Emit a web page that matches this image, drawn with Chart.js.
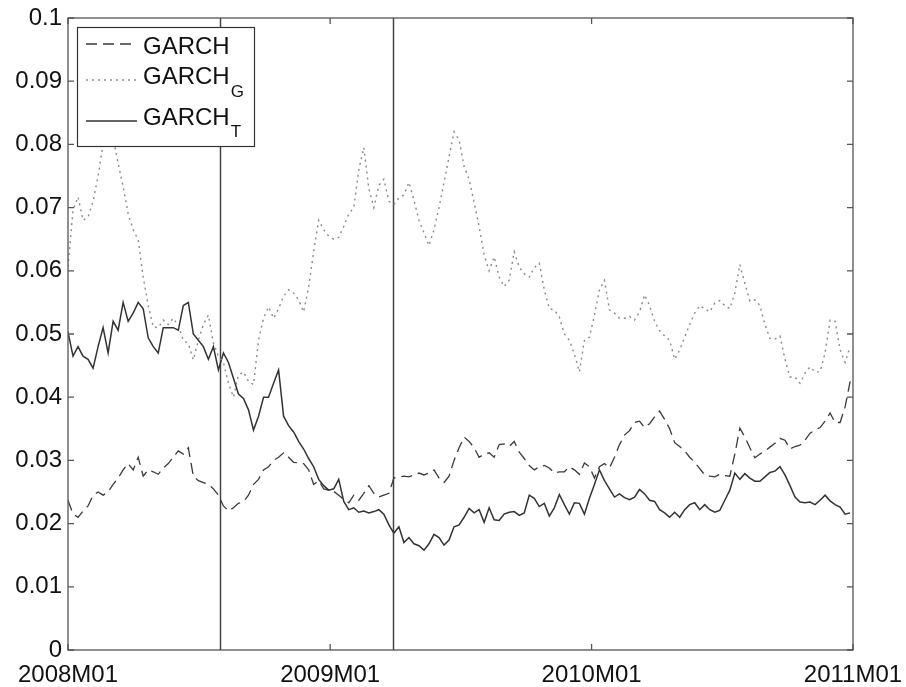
<!DOCTYPE html>
<html>
<head>
<meta charset="utf-8">
<script src="https://cdn.jsdelivr.net/npm/chart.js@4"></script>
<style>
  html, body { margin: 0; padding: 0; background: #fff; }
  #wrap { width: 906px; height: 687px; }
</style>
</head>
<body>
<div id="wrap"><canvas id="chart" width="906" height="687"></canvas></div>
<script>
// weekly values, x = weeks since 2008M01
const garch = [
  0.0237, 0.0215, 0.021, 0.022, 0.0228, 0.0245, 0.025, 0.0245, 0.025, 0.0262,
  0.0272, 0.0285, 0.0295, 0.0285, 0.0305, 0.0275, 0.0285, 0.0282, 0.0278, 0.0288,
  0.0295, 0.0305, 0.0315, 0.031, 0.032, 0.0275, 0.0268, 0.0265, 0.0262, 0.0255,
  0.0245, 0.0228, 0.022, 0.0225, 0.0232, 0.0235, 0.0245, 0.0262, 0.027, 0.0285,
  0.029, 0.030, 0.0305, 0.0312, 0.0305, 0.0297, 0.0296, 0.0295, 0.0285, 0.0262,
  0.0268, 0.0255, 0.0253, 0.0251, 0.0245, 0.0238, 0.0233, 0.0245, 0.0237, 0.0248,
  0.026, 0.0248, 0.0242, 0.0245, 0.0248, 0.0272, 0.0274, 0.0275, 0.0274, 0.0277,
  0.028, 0.0277, 0.028, 0.0285, 0.0272, 0.0265, 0.0275, 0.030, 0.032, 0.0337,
  0.033, 0.032, 0.0305, 0.031, 0.0312, 0.0305, 0.0325, 0.0326, 0.0322, 0.033,
  0.0313, 0.0303, 0.0292, 0.0285, 0.029, 0.0292, 0.0288, 0.028, 0.0282, 0.0282,
  0.029, 0.0285, 0.0278, 0.0296, 0.029, 0.0272, 0.029, 0.0295, 0.0288, 0.0305,
  0.0325, 0.034, 0.0347, 0.036, 0.0362, 0.0352, 0.0358, 0.0369, 0.0378, 0.0365,
  0.035, 0.0328, 0.0322, 0.0315, 0.0305, 0.0297, 0.0287, 0.0277, 0.0275, 0.0274,
  0.0278, 0.0276, 0.0275, 0.031, 0.0351, 0.0337, 0.032, 0.0304, 0.031, 0.0315,
  0.0321, 0.0327, 0.0335, 0.0332, 0.0318, 0.0322, 0.0324, 0.0332, 0.0343, 0.0348,
  0.0352, 0.0362, 0.0375, 0.036, 0.036, 0.0385, 0.0425
];
const garchG = [
  0.0606, 0.0696, 0.0717, 0.068, 0.0685, 0.071, 0.075, 0.080, 0.081, 0.081,
  0.077, 0.0733, 0.069, 0.0665, 0.0649, 0.059, 0.0545, 0.0511, 0.051, 0.0522,
  0.0515, 0.0525, 0.0513, 0.049, 0.0485, 0.0459, 0.049, 0.0515, 0.053, 0.0486,
  0.0464, 0.0455, 0.0422, 0.040, 0.0435, 0.044, 0.0425, 0.042, 0.049, 0.0525,
  0.0543, 0.0525, 0.054, 0.056, 0.057, 0.0565, 0.0554, 0.0535, 0.0575, 0.063,
  0.068, 0.0665, 0.0655, 0.065, 0.0653, 0.067, 0.069, 0.070, 0.076, 0.0795,
  0.073, 0.070, 0.0735, 0.0745, 0.071, 0.0705, 0.0715, 0.072, 0.074, 0.0712,
  0.068, 0.066, 0.064, 0.0665, 0.070, 0.074, 0.078, 0.082, 0.0807, 0.0765,
  0.0745, 0.0708, 0.067, 0.0625, 0.060, 0.0622, 0.059, 0.0575, 0.0585, 0.063,
  0.0606, 0.0595, 0.059, 0.0605, 0.0612, 0.057, 0.054, 0.0538, 0.0527, 0.050,
  0.049, 0.0468, 0.044, 0.049, 0.0495, 0.053, 0.057, 0.0585, 0.0538, 0.0533,
  0.0525, 0.0525, 0.0528, 0.0522, 0.0535, 0.0562, 0.0545, 0.052, 0.0505, 0.0497,
  0.049, 0.046, 0.0475, 0.0495, 0.0515, 0.0533, 0.0545, 0.054, 0.0535, 0.0549,
  0.0553, 0.0545, 0.054, 0.0565, 0.061, 0.058, 0.0552, 0.0554, 0.0545, 0.0515,
  0.0493, 0.0492, 0.0497, 0.046, 0.0432, 0.0432, 0.0422, 0.0438, 0.0448, 0.044,
  0.044, 0.047, 0.0522, 0.052, 0.0475, 0.0455, 0.048
];
const garchT = [
  0.0503, 0.0465, 0.048, 0.0465, 0.046, 0.0446, 0.048, 0.051, 0.047, 0.052,
  0.0506, 0.055, 0.052, 0.0533, 0.055, 0.054, 0.0494, 0.048, 0.047, 0.051,
  0.051, 0.051, 0.0506, 0.0545, 0.055, 0.050, 0.049, 0.048, 0.046, 0.048,
  0.0443, 0.047, 0.0455, 0.043, 0.0405, 0.0398, 0.038, 0.0348, 0.037, 0.040,
  0.040, 0.0422, 0.0443, 0.037, 0.0355, 0.0345, 0.033, 0.0318, 0.0303, 0.029,
  0.027, 0.026, 0.0253, 0.0255, 0.027, 0.0235, 0.0222, 0.0225, 0.0218, 0.022,
  0.0217, 0.0219, 0.0222, 0.0215, 0.0198, 0.0185, 0.0195, 0.017, 0.0178, 0.0168,
  0.0165, 0.0158, 0.0168, 0.0183, 0.0178, 0.0166, 0.0174, 0.0195, 0.0198, 0.021,
  0.0224, 0.0217, 0.0222, 0.0202, 0.0225, 0.0206, 0.0205, 0.0215, 0.0218, 0.0219,
  0.0213, 0.0217, 0.0245, 0.024, 0.0227, 0.0232, 0.0212, 0.0225, 0.0246, 0.023,
  0.0215, 0.0233, 0.0232, 0.0215, 0.024, 0.0262, 0.0285, 0.0268, 0.0255, 0.0242,
  0.0247, 0.0241, 0.0238, 0.0242, 0.0254, 0.0247, 0.0237, 0.0235, 0.0222, 0.0217,
  0.021, 0.0218, 0.021, 0.0222, 0.023, 0.0233, 0.0222, 0.023, 0.0222, 0.0218,
  0.0221, 0.0237, 0.0253, 0.028, 0.027, 0.0279, 0.0272, 0.0267, 0.0267, 0.0274,
  0.0281, 0.0283, 0.029, 0.0277, 0.026, 0.0242, 0.0234, 0.0233, 0.0234, 0.023,
  0.0237, 0.0245, 0.0236, 0.023, 0.0226, 0.0215, 0.0217
];
const seriesNames = ['GARCH', 'GARCH', 'GARCH'];
const seriesSubs = ['', 'G', 'T'];
const tickWeeks = [0, 52.29, 104.43, 156.57];
const tickLabels = ['2008M01', '2009M01', '2010M01', '2011M01'];
const breakWeeks = [30.3, 64.8];

const FONT = '"Liberation Sans", Arial, Helvetica, sans-serif';
const toXY = arr => arr.map((v, i) => ({ x: i, y: v }));

// box, inward ticks, break lines and the legend (with subscripts)
const framePlugin = {
  id: 'frame',
  beforeDatasetsDraw(chart) {
    const { ctx, chartArea: a, scales } = chart;
    ctx.save();
    ctx.strokeStyle = '#444';
    ctx.lineWidth = 1.5;
    breakWeeks.forEach(w => {
      const x = Math.round(scales.x.getPixelForValue(w)) + 0.5;
      ctx.beginPath();
      ctx.moveTo(x, a.top);
      ctx.lineTo(x, a.bottom);
      ctx.stroke();
    });
    ctx.restore();
  },
  afterDatasetsDraw(chart) {
    const { ctx, chartArea: a, scales } = chart;
    ctx.save();
    ctx.strokeStyle = '#555';
    ctx.lineWidth = 1.3;
    ctx.strokeRect(a.left, a.top, a.right - a.left, a.bottom - a.top);
    const len = 6;
    ctx.beginPath();
    tickWeeks.forEach(w => {
      const x = scales.x.getPixelForValue(w);
      ctx.moveTo(x, a.bottom); ctx.lineTo(x, a.bottom - len);
      ctx.moveTo(x, a.top); ctx.lineTo(x, a.top + len);
    });
    scales.y.ticks.forEach(t => {
      const y = scales.y.getPixelForValue(t.value);
      ctx.moveTo(a.left, y); ctx.lineTo(a.left + len, y);
      ctx.moveTo(a.right, y); ctx.lineTo(a.right - len, y);
    });
    ctx.stroke();

    // legend
    const bx = 77.5, by = 27.5, bw = 177, bh = 119;
    ctx.fillStyle = '#fff';
    ctx.fillRect(bx, by, bw, bh);
    ctx.strokeStyle = '#333';
    ctx.lineWidth = 1.2;
    ctx.strokeRect(bx, by, bw, bh);
    const lineYs = [44, 80, 121];
    const baseYs = [54, 84, 125];
    const subYs = [0, 97, 137];
    chart.data.datasets.forEach((ds, i) => {
      ctx.strokeStyle = ds.borderColor;
      ctx.lineWidth = ds.borderWidth;
      ctx.setLineDash(ds.borderDash || []);
      ctx.beginPath();
      ctx.moveTo(86, lineYs[i]);
      ctx.lineTo(137, lineYs[i]);
      ctx.stroke();
      ctx.setLineDash([]);
      ctx.fillStyle = '#111';
      ctx.textBaseline = 'alphabetic';
      ctx.textAlign = 'left';
      ctx.font = '24px ' + FONT;
      ctx.fillText(seriesNames[i], 143, baseYs[i]);
      if (seriesSubs[i]) {
        const w = ctx.measureText(seriesNames[i]).width;
        ctx.font = '17px ' + FONT;
        ctx.fillText(seriesSubs[i], 143 + w + 1, subYs[i]);
      }
    });
    ctx.restore();
  }
};

new Chart(document.getElementById('chart'), {
  type: 'line',
  data: {
    datasets: [
      {
        label: 'GARCH',
        data: toXY(garch),
        borderColor: '#3a3a3a',
        borderWidth: 1.3,
        borderDash: [11, 6],
        pointRadius: 0,
        tension: 0
      },
      {
        label: 'GARCH_G',
        data: toXY(garchG),
        borderColor: '#8a8a8a',
        borderWidth: 1.4,
        borderDash: [2, 4],
        pointRadius: 0,
        tension: 0
      },
      {
        label: 'GARCH_T',
        data: toXY(garchT),
        borderColor: '#333',
        borderWidth: 1.5,
        pointRadius: 0,
        tension: 0
      }
    ]
  },
  options: {
    responsive: false,
    animation: false,
    layout: { padding: { top: 18, right: 53, left: 0, bottom: 0 } },
    plugins: { legend: { display: false }, tooltip: { enabled: false } },
    scales: {
      x: {
        type: 'linear',
        min: 0,
        max: tickWeeks[tickWeeks.length - 1],
        grid: { display: false, drawTicks: false },
        border: { display: false },
        afterBuildTicks: scale => { scale.ticks = tickWeeks.map(v => ({ value: v })); },
        afterFit: scale => {
          scale.height = 37;
          scale.paddingLeft = 0;
          scale.paddingRight = 0;
        },
        ticks: {
          padding: 11,
          maxRotation: 0,
          autoSkip: false,
          color: '#111',
          font: { family: FONT, size: 24 },
          callback: (v) => tickLabels[tickWeeks.indexOf(v)] || ''
        }
      },
      y: {
        min: 0,
        max: 0.1,
        grid: { display: false, drawTicks: false },
        border: { display: false },
        afterFit: scale => {
          scale.width = 68;
          scale.paddingTop = 0;
          scale.paddingBottom = 0;
        },
        ticks: {
          stepSize: 0.01,
          padding: 6,
          color: '#111',
          font: { family: FONT, size: 24 },
          callback: v => String(parseFloat(v.toFixed(2)))
        }
      }
    }
  },
  plugins: [framePlugin]
});
</script>
</body>
</html>
